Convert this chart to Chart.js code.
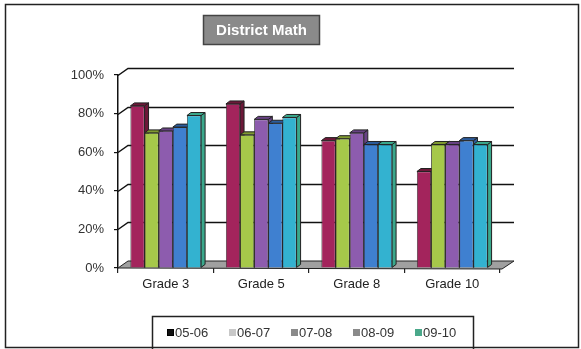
<!DOCTYPE html>
<html>
<head>
<meta charset="utf-8">
<script src="https://cdn.jsdelivr.net/npm/chart.js@4/dist/chart.umd.min.js"></script>
<style>
  html, body { margin: 0; padding: 0; background: #fff; }
  #wrap { width: 581px; height: 349px; }
</style>
</head>
<body>
<div id="wrap"><canvas id="myChart" width="581" height="349"></canvas></div>
<script>
// grades and school years
const grades = ['Grade 3', 'Grade 5', 'Grade 8', 'Grade 10'];
const years = ['05-06', '06-07', '07-08', '08-09', '09-10'];

// percent proficient per grade, one list per school year
const y0506 = [84, 85, 66, 50];
const y0607 = [70, 69, 67, 64];
const y0708 = [71, 77, 70, 64];
const y0809 = [73, 75, 64, 66];
const y0910 = [79, 78, 64, 64];

const yTicks = [0, 20, 40, 60, 80, 100];

const barColors = ['#a3245c', '#a6c84a', '#8d5cae', '#3f80d0', '#33b2d0'];
const capColors = ['#6c1838', '#7f9a30', '#684284', '#2c5c9c', '#3aa88c'];
const swatchColors = ['#111111', '#c8c8c8', '#8a8a8a', '#8a8a8a', '#4aa88a'];

const DX = 10, DY = -7;   // depth of the back wall
const BX = 4, BY = -3;    // depth of each column

function shade(ctx, pts, fill, stroke) {
    ctx.beginPath();
    ctx.moveTo(pts[0][0], pts[0][1]);
    for (let i = 1; i < pts.length; i++) ctx.lineTo(pts[i][0], pts[i][1]);
    ctx.closePath();
    ctx.fillStyle = fill;
    ctx.fill();
    if (stroke) {
        ctx.strokeStyle = stroke;
        ctx.lineWidth = 1;
        ctx.stroke();
    }
}

const wallsPlugin = {
    id: 'walls',
    beforeDraw(chart) {
        const ctx = chart.ctx;
        ctx.save();
        // outer frame
        ctx.strokeStyle = '#222';
        ctx.lineWidth = 1.5;
        ctx.strokeRect(5.5, 4.5, 573, 343);
        // title box
        ctx.fillStyle = '#8a8a8a';
        ctx.fillRect(203, 15, 117, 30);
        ctx.strokeStyle = '#444';
        ctx.lineWidth = 1.5;
        ctx.strokeRect(203.5, 15.5, 116, 29);
        ctx.fillStyle = '#fff';
        ctx.font = 'bold 15px "Liberation Sans", Arial, sans-serif';
        ctx.textAlign = 'center';
        ctx.textBaseline = 'middle';
        ctx.fillText('District Math', 261.5, 30.5);
        ctx.restore();
    },
    beforeDatasetsDraw(chart) {
        const ctx = chart.ctx;
        const a = chart.chartArea;
        const y = chart.scales.y;
        ctx.save();
        // gridlines along the left wall and back wall
        ctx.strokeStyle = '#111';
        ctx.lineWidth = 1.5;
        yTicks.forEach(function (t) {
            if (t === 0) return;
            const py = Math.round(y.getPixelForValue(t)) + 0.5;
            ctx.beginPath();
            ctx.moveTo(a.left, py);
            ctx.lineTo(a.left + DX, py + DY);
            ctx.lineTo(a.right + DX + 4, py + DY);
            ctx.stroke();
        });
        // floor
        const fy = y.getPixelForValue(0);
        shade(ctx, [[a.left, fy], [a.left + DX, fy + DY], [a.right + DX + 4, fy + DY], [a.right + 2, fy + 1]], '#a0a0a0', '#222');
        // column tops and sides, drawn behind the front faces
        chart.data.datasets.forEach(function (ds, di) {
            const meta = chart.getDatasetMeta(di);
            meta.data.forEach(function (bar) {
                const l = bar.x - bar.width / 2, r = bar.x + bar.width / 2;
                const t = bar.y, b = bar.base;
                shade(ctx, [[r, b], [r + BX, b + BY], [r + BX, t + BY], [r, t]], capColors[di], '#222');
                shade(ctx, [[l, t], [l + BX, t + BY], [r + BX, t + BY], [r, t]], capColors[di], '#222');
            });
        });
        ctx.restore();
    },
    afterDraw(chart) {
        const ctx = chart.ctx;
        ctx.save();
        // legend box
        ctx.strokeStyle = '#222';
        ctx.lineWidth = 1.5;
        ctx.strokeRect(152.5, 316.5, 321, 40);
        ctx.font = '13px "Liberation Sans", Arial, sans-serif';
        ctx.textBaseline = 'middle';
        ctx.textAlign = 'left';
        years.forEach(function (yr, i) {
            const x = 167 + i * 62;
            ctx.fillStyle = swatchColors[i];
            ctx.fillRect(x, 329, 7, 7);
            if (i === 0) {
                ctx.strokeStyle = '#000';
                ctx.lineWidth = 1;
                ctx.strokeRect(x + 0.5, 329.5, 6, 6);
            }
            ctx.fillStyle = '#333';
            ctx.fillText(yr, x + 8, 333);
        });
        ctx.restore();
    }
};

const ctx = document.getElementById('myChart').getContext('2d');
new Chart(ctx, {
    type: 'bar',
    data: {
        labels: grades,
        datasets: [y0506, y0607, y0708, y0809, y0910].map(function (vals, i) {
            return {
                label: years[i],
                data: vals,
                backgroundColor: barColors[i],
                borderColor: '#2a2a2a',
                borderWidth: 0.8,
                barPercentage: 1,
                categoryPercentage: 0.74
            };
        })
    },
    options: {
        responsive: false,
        animation: false,
        layout: { padding: { top: 75, left: 58, right: 81, bottom: 57 } },
        plugins: {
            legend: { display: false },
            title: { display: false },
            tooltip: { enabled: false }
        },
        scales: {
            x: {
                afterFit: function (scale) { scale.height = 24; },
                border: { display: false },
                grid: {
                    drawOnChartArea: false,
                    drawTicks: true,
                    tickLength: 5,
                    color: '#222',
                    lineWidth: 1.2
                },
                ticks: {
                    color: '#222',
                    padding: 4,
                    font: { family: '"Liberation Sans", Arial, sans-serif', size: 13 }
                }
            },
            y: {
                min: 0,
                max: 100,
                afterFit: function (scale) { scale.width = 60; },
                afterBuildTicks: function (scale) {
                    scale.ticks = yTicks.map(function (v) { return { value: v }; });
                },
                border: { display: true, color: '#111', width: 1.5 },
                grid: {
                    drawOnChartArea: false,
                    drawTicks: true,
                    tickLength: 4,
                    color: '#111',
                    lineWidth: 1.2
                },
                ticks: {
                    color: '#333',
                    padding: 10,
                    font: { family: '"Liberation Sans", Arial, sans-serif', size: 13 },
                    callback: function (value) { return value + '%'; }
                }
            }
        }
    },
    plugins: [wallsPlugin]
});
</script>
</body>
</html>
